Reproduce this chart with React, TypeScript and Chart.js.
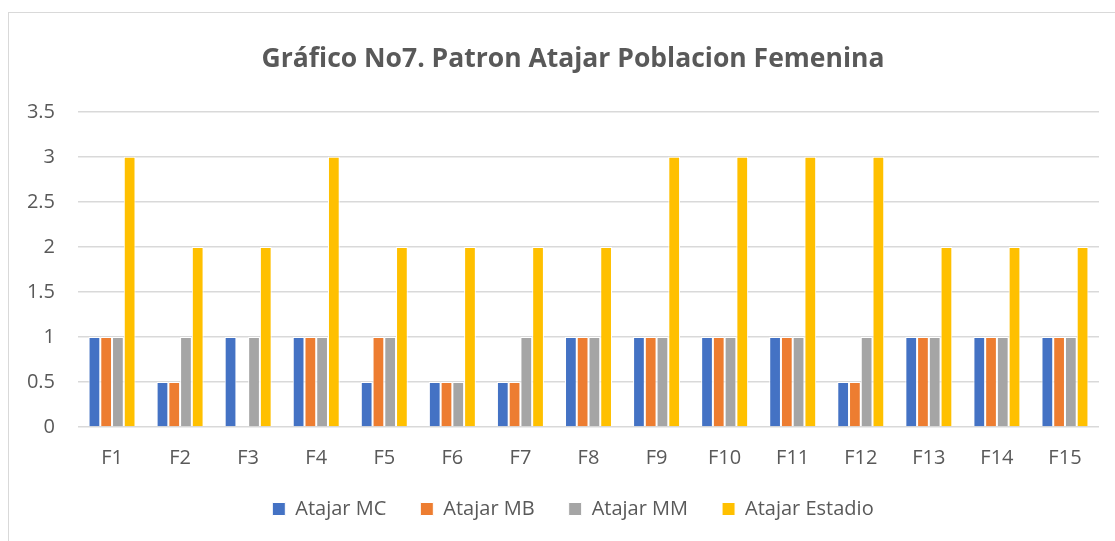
import React, { useEffect, useRef } from "react";
import { Chart, registerables } from "chart.js";

Chart.register(...registerables);

const categories = ["F1", "F2", "F3", "F4", "F5", "F6", "F7", "F8", "F9", "F10", "F11", "F12", "F13", "F14", "F15"];
const atajarMC = [1, 0.5, 1, 1, 0.5, 0.5, 0.5, 1, 1, 1, 1, 0.5, 1, 1, 1];
const atajarMB = [1, 0.5, 0, 1, 1, 0.5, 0.5, 1, 1, 1, 1, 0.5, 1, 1, 1];
const atajarMM = [1, 1, 1, 1, 1, 0.5, 1, 1, 1, 1, 1, 1, 1, 1, 1];
const atajarEstadio = [3, 2, 2, 3, 2, 2, 2, 2, 3, 3, 3, 3, 2, 2, 2];
const seriesNames = ["Atajar MC", "Atajar MB", "Atajar MM", "Atajar Estadio"];
const seriesColors = ["#4472C4", "#ED7D31", "#A5A5A5", "#FFC000"];
const titleText = "Gráfico No7. Patron Atajar Poblacion Femenina";

const FONT = "'Open Sans', 'Liberation Sans', sans-serif";
const TEXT = "#595959";

const centerShift = {
  id: "centerShift",
  afterLayout(chart: any) {
    const dx = 19;
    const boxes = [chart.legend, chart.titleBlock];
    boxes.forEach((b: any) => {
      if (b) {
        b.left += dx;
        b.right += dx;
      }
    });
  },
};

export default function App() {
  const ref = useRef<HTMLCanvasElement>(null);

  useEffect(() => {
    if (!ref.current) return;
    const values = [atajarMC, atajarMB, atajarMM, atajarEstadio];
    const chart = new Chart(ref.current, {
      type: "bar",
      data: {
        labels: categories,
        datasets: values.map((v, i) => ({
          label: seriesNames[i],
          data: v,
          backgroundColor: seriesColors[i],
          borderColor: "#ffffff",
          borderWidth: 1,
          categoryPercentage: 0.69,
          barPercentage: 1,
        })),
      },
      options: {
        responsive: false,
        animation: false,
        devicePixelRatio: 1,
        layout: { padding: { left: 0, right: 16, top: 0, bottom: 12 } },
        plugins: {
          title: {
            display: true,
            text: titleText,
            color: TEXT,
            font: { family: FONT, size: 26.5, weight: "bold" },
            padding: { top: 31, bottom: 36 },
          },
          legend: {
            position: "bottom",
            labels: {
              color: TEXT,
              font: { family: FONT, size: 20 },
              boxWidth: 13,
              boxHeight: 13,
              padding: 34,
            },
          },
          tooltip: { enabled: false },
        },
        scales: {
          x: {
            grid: { display: false, drawTicks: false },
            border: { display: false },
            ticks: { color: TEXT, font: { family: FONT, size: 20 }, padding: 19 },
            afterFit: (s: any) => {
              s.height = 38;
            },
          },
          y: {
            min: 0,
            max: 3.5,
            grid: { color: "#D9D9D9", lineWidth: 1.5, drawTicks: false },
            border: { display: false },
            ticks: {
              stepSize: 0.5,
              color: TEXT,
              font: { family: FONT, size: 20 },
              padding: 23,
              callback: (v: any) => String(Number(v)),
            },
            afterFit: (s: any) => {
              s.width = 69;
            },
          },
        },
      },
      plugins: [centerShift],
    });
    return () => chart.destroy();
  }, []);

  return (
    <div
      style={{
        position: "fixed",
        left: 8,
        top: 12,
        width: 1120,
        height: 540,
        borderLeft: "1.5px solid #D9D9D9",
        borderTop: "1.5px solid #D9D9D9",
        background: "#fff",
      }}
    >
      <canvas ref={ref} width={1106} height={528} style={{ position: "absolute", left: 0, top: 0 }} />
    </div>
  );
}
